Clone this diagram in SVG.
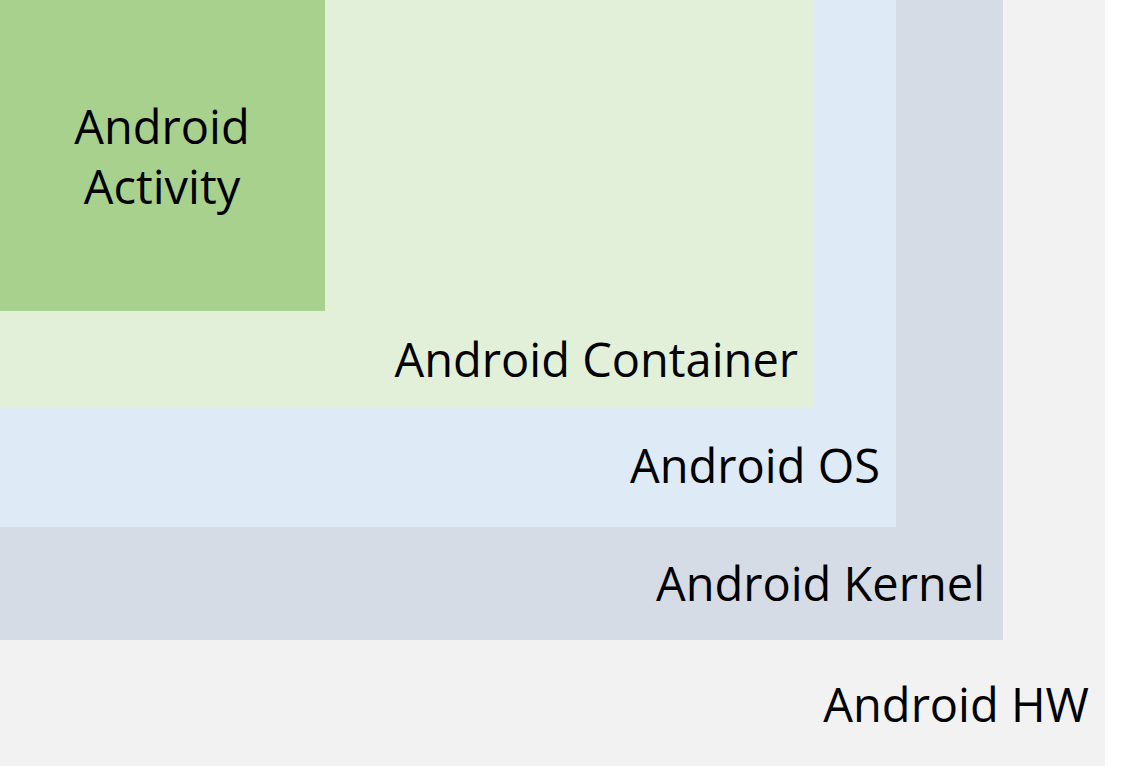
<svg xmlns="http://www.w3.org/2000/svg" width="1121" height="766" viewBox="0 0 1121 766">
<style>
text{font-family:"Open Sans","Noto Sans",sans-serif;font-size:47px;fill:#000}
.r{text-anchor:end}
.c{text-anchor:middle}
</style>
<rect width="1121" height="766" fill="#ffffff"/>
<g id="hw"><rect x="0" y="0" width="1105" height="766" fill="#f2f2f2"/><text class="r" x="1089" y="722">Android HW</text></g>
<g id="kernel"><rect x="0" y="0" width="1003" height="640" fill="#d6dce5"/><text class="r" x="985" y="601">Android Kernel</text></g>
<g id="os"><rect x="0" y="0" width="896" height="527" fill="#deebf7"/><text class="r" x="880" y="483">Android OS</text></g>
<g id="container"><rect x="0" y="0" width="814" height="408" fill="#e2f0d9"/><text class="r" x="798" y="377">Android Container</text></g>
<g id="activity"><rect x="0" y="0" width="325" height="311" fill="#a9d18e"/><text class="c" x="162" y="144">Android</text><text class="c" x="162" y="204">Activity</text></g>
<g id="connectors"></g>
</svg>
